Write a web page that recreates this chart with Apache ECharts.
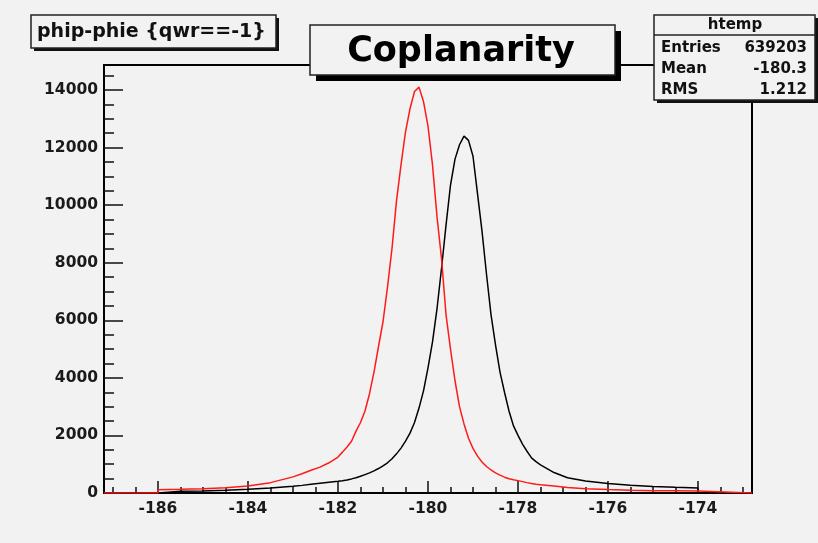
<!DOCTYPE html>
<html>
<head>
<meta charset="utf-8">
<script src="https://cdn.jsdelivr.net/npm/echarts@6/dist/echarts.min.js"></script>
<style>
html,body{margin:0;padding:0;background:#f2f2f2;}
#chart{width:818px;height:543px;}
</style>
</head>
<body>
<div id="chart"></div>
<script>
// ---- data ----
const xRange = [-187.2, -172.8];
const xs = [
  -186, -185.5, -185, -184.5, -184, -183.5, -183, -182.8, -182.6, -182.4, -182.2,
  -182.0, -181.9, -181.8, -181.7, -181.6, -181.5, -181.4, -181.3, -181.2, -181.1,
  -181.0, -180.9, -180.8, -180.7, -180.6, -180.5, -180.4, -180.3, -180.2, -180.1,
  -180.0, -179.9, -179.8, -179.7, -179.6, -179.5, -179.4, -179.3, -179.2, -179.1,
  -179.0, -178.9, -178.8, -178.7, -178.6, -178.5, -178.4, -178.3, -178.2, -178.1,
  -178.0, -177.9, -177.8, -177.7, -177.6, -177.5,
  -177.2, -176.9, -176.5, -176, -175.5, -175, -174.5, -174
];
const redCounts = [
  115, 130, 150, 185, 240, 360, 560, 670, 790, 900, 1050,
  1250, 1420, 1600, 1800, 2150, 2450, 2850, 3450, 4200, 5090,
  5950, 7150, 8500, 10150, 11400, 12550, 13350, 13950, 14100, 13600,
  12750, 11400, 9600, 8150, 6200, 5000, 3900, 3000, 2400, 1900,
  1550, 1280, 1080, 920, 800, 700, 620, 550, 495, 460,
  430, 395, 360, 330, 305, 285,
  240, 190, 150, 118, 95, 82, 74, 68
];
const blackCounts = [
  55, 62, 72, 92, 130, 175, 235, 265, 300, 335, 370,
  405, 425, 455, 490, 530, 580, 640, 700, 770, 850,
  940, 1050, 1190, 1360, 1560, 1800, 2080, 2450, 2950, 3550,
  4350, 5250, 6400, 7800, 9300, 10700, 11600, 12100, 12400, 12250,
  11700, 10400, 9100, 7600, 6200, 5150, 4200, 3500, 2850, 2330,
  2000, 1700, 1450, 1220, 1090, 980,
  710, 530, 420, 330, 270, 230, 200, 172
];
const xMajorTicks = [-186, -184, -182, -180, -178, -176, -174];
const xMinorTicks = [-187, -186.5, -186, -185.5, -185, -184.5, -184, -183.5, -183, -182.5, -182, -181.5, -181, -180.5, -180, -179.5, -179, -178.5, -178, -177.5, -177, -176.5, -176, -175.5, -175, -174.5, -174, -173.5, -173];
const yMax = 14870;
const yMajorTicks = [0, 2000, 4000, 6000, 8000, 10000, 12000, 14000];
const yMinorTicks = [0, 500, 1000, 1500, 2000, 2500, 3000, 3500, 4000, 4500, 5000, 5500, 6000, 6500, 7000, 7500, 8000, 8500, 9000, 9500, 10000, 10500, 11000, 11500, 12000, 12500, 13000, 13500, 14000, 14500];
const histTitle = 'phip-phie {qwr==-1}';
const plotTitle = 'Coplanarity';
const statsName = 'htemp';
const statsRows = [['Entries', '639203'], ['Mean', '-180.3'], ['RMS', '1.212']];

function histData(vals) {
  const d = [[xRange[0], 0], [xs[0], 0]];
  for (let i = 0; i < xs.length; i++) d.push([xs[i], vals[i]]);
  d.push([xs[xs.length - 1], 0], [xRange[1], 0]);
  return d;
}

const FONT = 'DejaVu Sans';
const chart = echarts.init(document.getElementById('chart'), null, {renderer: 'canvas'});

const graphic = [
  // title box (hist title)
  {type: 'rect', shape: {x: 34, y: 18, width: 245, height: 33}, style: {fill: '#111'}, z: 100},
  {type: 'rect', shape: {x: 31, y: 15, width: 245, height: 33}, style: {fill: '#f2f2f2', stroke: '#222', lineWidth: 1.5}, z: 101},
  {type: 'text', x: 37, y: 32, style: {text: histTitle, font: 'bold 19px "' + FONT + '"', fill: '#111', verticalAlign: 'middle', align: 'left'}, z: 102},
  // Coplanarity box
  {type: 'rect', shape: {x: 316, y: 31, width: 305, height: 50}, style: {fill: '#000'}, z: 100},
  {type: 'rect', shape: {x: 310, y: 25, width: 305, height: 50}, style: {fill: '#f2f2f2', stroke: '#222', lineWidth: 1.5}, z: 101},
  {type: 'text', x: 461, y: 52, style: {text: plotTitle, font: 'bold 35px "' + FONT + '"', fill: '#000', verticalAlign: 'middle', align: 'center'}, z: 102},
  // stats box
  {type: 'rect', shape: {x: 657, y: 18, width: 161, height: 85}, style: {fill: '#111'}, z: 100},
  {type: 'rect', shape: {x: 654, y: 15, width: 161, height: 85}, style: {fill: '#f2f2f2', stroke: '#222', lineWidth: 1.5}, z: 101},
  {type: 'line', shape: {x1: 654, y1: 35, x2: 815, y2: 35}, style: {stroke: '#222', lineWidth: 1.5}, z: 102},
  {type: 'text', x: 735, y: 25.5, style: {text: statsName, font: 'bold 15px "' + FONT + '"', fill: '#111', verticalAlign: 'middle', align: 'center'}, z: 102}
];
statsRows.forEach((r, i) => {
  const y = 48 + i * 21;
  graphic.push({type: 'text', x: 661, y: y, style: {text: r[0], font: 'bold 15px "' + FONT + '"', fill: '#111', verticalAlign: 'middle', align: 'left'}, z: 102});
  graphic.push({type: 'text', x: 807, y: y, style: {text: r[1], font: 'bold 15px "' + FONT + '"', fill: '#111', verticalAlign: 'middle', align: 'right'}, z: 102});
});

const labelStyle = {fontFamily: FONT, fontWeight: 'bold', fontSize: 15.5, color: '#1a1a1a', formatter: v => String(v)};

chart.setOption({
  backgroundColor: '#f2f2f2',
  animation: false,
  grid: {left: 104, right: 66, top: 65, bottom: 50, show: true, borderColor: '#000', borderWidth: 2, backgroundColor: 'transparent'},
  xAxis: [
    {type: 'value', min: xRange[0], max: xRange[1], position: 'bottom',
     axisLine: {show: true, onZero: false, lineStyle: {color: '#000', width: 2}},
     axisTick: {show: true, inside: true, length: 12, customValues: xMajorTicks, lineStyle: {color: '#111', width: 1.5}},
     axisLabel: Object.assign({show: true, margin: 8, customValues: xMajorTicks}, labelStyle),
     splitLine: {show: false}},
    {type: 'value', min: xRange[0], max: xRange[1], position: 'bottom',
     axisLine: {show: false},
     axisTick: {show: true, inside: true, length: 6, customValues: xMinorTicks, lineStyle: {color: '#111', width: 1.5}},
     axisLabel: {show: false},
     splitLine: {show: false}}
  ],
  yAxis: [
    {type: 'value', min: 0, max: yMax, position: 'left',
     axisLine: {show: true, onZero: false, lineStyle: {color: '#000', width: 2}},
     axisTick: {show: true, inside: true, length: 19, customValues: yMajorTicks, lineStyle: {color: '#111', width: 1.5}},
     axisLabel: Object.assign({show: true, margin: 6, customValues: yMajorTicks}, labelStyle),
     splitLine: {show: false}},
    {type: 'value', min: 0, max: yMax, position: 'left',
     axisLine: {show: false},
     axisTick: {show: true, inside: true, length: 10, customValues: yMinorTicks, lineStyle: {color: '#111', width: 1.5}},
     axisLabel: {show: false},
     splitLine: {show: false}}
  ],
  series: [
    {type: 'line', name: 'black', xAxisIndex: 0, yAxisIndex: 0, data: histData(blackCounts), showSymbol: false, symbol: 'none',
     lineStyle: {color: '#000', width: 1.5}, z: 3},
    {type: 'line', name: 'red', xAxisIndex: 0, yAxisIndex: 0, data: histData(redCounts), showSymbol: false, symbol: 'none',
     lineStyle: {color: '#ff1a1a', width: 1.5}, z: 4}
  ],
  graphic: graphic
});
</script>
</body>
</html>
